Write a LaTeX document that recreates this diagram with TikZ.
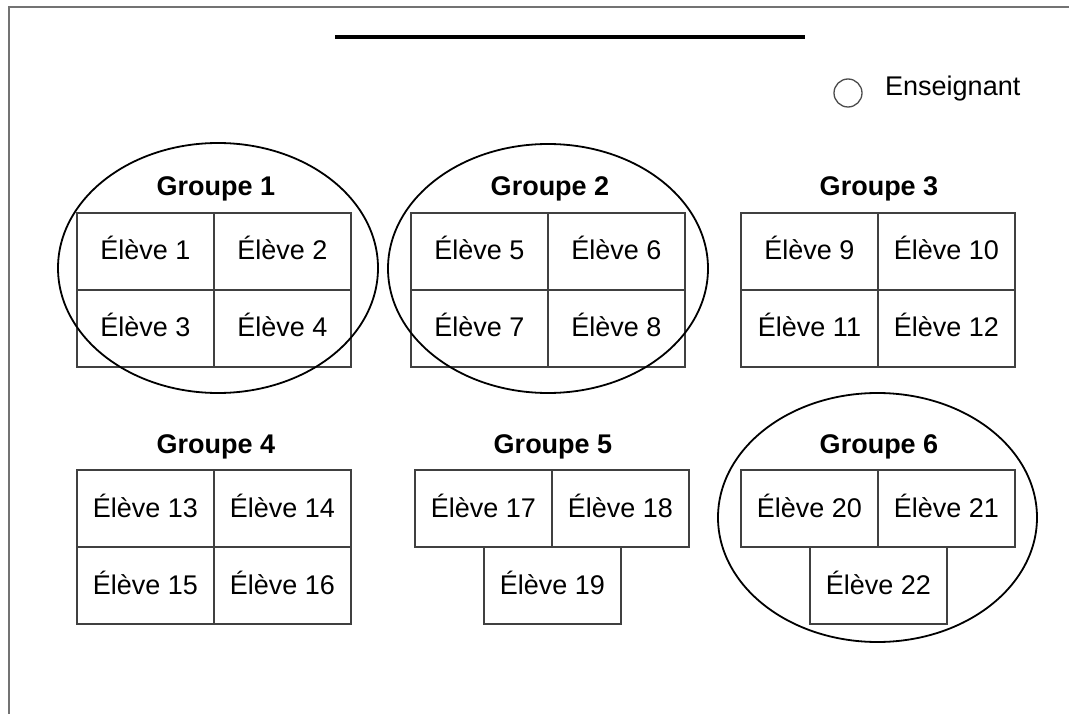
\documentclass[tikz,border=0pt]{standalone}
\usepackage{fontspec}
\setmainfont{Liberation Sans}
\usetikzlibrary{shapes.geometric}
\begin{document}
\begin{tikzpicture}[x=1pt,y=-1pt,
  cell/.style={draw=black!75, line width=1.3pt, minimum width=137pt, minimum height=77pt, inner sep=0pt, text height=20pt, text depth=3pt, font=\fontsize{27}{32}\selectfont},
  grouptitle/.style={anchor=base, inner sep=0pt, font=\fontsize{27}{32}\selectfont\bfseries},
  ring/.style={draw=black, line width=1.8pt, ellipse, inner sep=0pt},
  frame/.style={draw=black!55, line width=2pt}]
\useasboundingbox (0,0) rectangle (1069,714);
% page frame
\coordinate (fb) at (8.5,714);
\coordinate (fc) at (8.5,7.5);
\coordinate (fr) at (1069,7.5);
\draw[frame] (fb) -- (fc) -- (fr);
% board
\coordinate (b1) at (335,37);
\coordinate (b2) at (805,37);
\draw[line width=4pt] (b1) -- (b2);
% teacher
\node[circle, draw=black!70, line width=1.3pt, minimum size=28pt, inner sep=0pt] (teach) at (848,93) {};
\node[anchor=base west, inner sep=0pt, font=\fontsize{27}{32}\selectfont] (teachlbl) at (885,96) {Enseignant};
% Group 1
\node[grouptitle] (g1) at (216,196) {Groupe 1};
\node[cell] (e1) at (145.5,251.5) {Élève 1};
\node[cell] (e2) at (282.5,251.5) {Élève 2};
\node[cell] (e3) at (145.5,328.5) {Élève 3};
\node[cell] (e4) at (282.5,328.5) {Élève 4};
\node[ring, minimum width=320pt, minimum height=250pt] (r1) at (218,268) {};
% Group 2
\node[grouptitle] (g2) at (550,196) {Groupe 2};
\node[cell] (e5) at (479.5,251.5) {Élève 5};
\node[cell] (e6) at (616.5,251.5) {Élève 6};
\node[cell] (e7) at (479.5,328.5) {Élève 7};
\node[cell] (e8) at (616.5,328.5) {Élève 8};
\node[ring, minimum width=320pt, minimum height=249pt] (r2) at (548,268.5) {};
% Group 3
\node[grouptitle] (g3) at (879,196) {Groupe 3};
\node[cell] (e9) at (809.5,251.5) {Élève 9};
\node[cell] (e10) at (946.5,251.5) {Élève 10};
\node[cell] (e11) at (809.5,328.5) {Élève 11};
\node[cell] (e12) at (946.5,328.5) {Élève 12};
% Group 4
\node[grouptitle] (g4) at (216,453) {Groupe 4};
\node[cell] (e13) at (145.5,508.5) {Élève 13};
\node[cell] (e14) at (282.5,508.5) {Élève 14};
\node[cell] (e15) at (145.5,585.5) {Élève 15};
\node[cell] (e16) at (282.5,585.5) {Élève 16};
% Group 5
\node[grouptitle] (g5) at (553,453) {Groupe 5};
\node[cell] (e17) at (483.5,508.5) {Élève 17};
\node[cell] (e18) at (620.5,508.5) {Élève 18};
\node[cell] (e19) at (552.5,585.5) {Élève 19};
% Group 6
\node[grouptitle] (g6) at (879,453) {Groupe 6};
\node[cell] (e20) at (809.5,508.5) {Élève 20};
\node[cell] (e21) at (946.5,508.5) {Élève 21};
\node[cell] (e22) at (878.5,585.5) {Élève 22};
\node[ring, minimum width=319pt, minimum height=249pt] (r6) at (877.5,517.5) {};
\end{tikzpicture}
\end{document}
